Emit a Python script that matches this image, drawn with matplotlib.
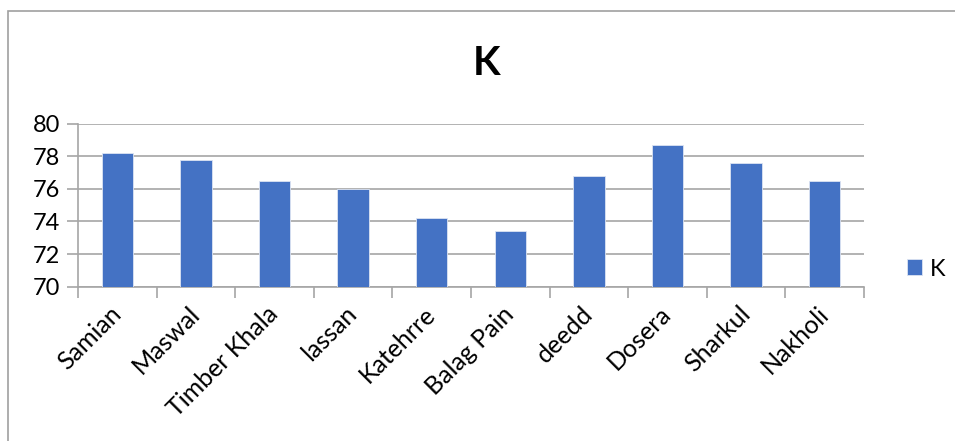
import numpy as np
import matplotlib.pyplot as plt
from matplotlib.patches import Rectangle

plt.rcParams['font.family'] = ['Lato', 'DejaVu Sans']

sites = ['Samian', 'Maswal', 'Timber Khala', 'lassan', 'Katehrre',
         'Balag Pain', 'deedd', 'Dosera', 'Sharkul', 'Nakholi']
k_values = [78.2, 77.8, 76.5, 76.0, 74.2, 73.4, 76.8, 78.7, 77.6, 76.5]

fig = plt.figure(figsize=(9.55, 4.41), dpi=100)
ax = fig.add_axes([0.0817, 0.35, 0.823, 0.3695])

x = np.arange(len(sites))
ax.bar(x, k_values, width=0.4, color='#4472C4', edgecolor='#dce4f2',
       linewidth=0.6, label='K', zorder=3)

ax.set_ylim(70, 80)
ax.set_xlim(-0.5, len(sites) - 0.5)
ax.set_yticks(np.arange(70, 81, 2))
ax.yaxis.grid(True, color='#a6a6a6', linewidth=1.2, zorder=0)

# category labels at centres, tick marks at category boundaries
ax.set_xticks(x)
ax.set_xticklabels(sites, rotation=45, ha='right', va='center',
                   rotation_mode='anchor')
ax.set_xticks(np.arange(-0.5, len(sites)), minor=True)
ax.tick_params(axis='x', which='major', length=0, pad=17, labelsize=18)
ax.tick_params(axis='x', which='minor', length=8, color='#a6a6a6', width=1.2)
ax.tick_params(axis='y', length=8, color='#a6a6a6', width=1.2, labelsize=17, pad=5)

for side in ['top', 'right']:
    ax.spines[side].set_visible(False)
for side in ['left', 'bottom']:
    ax.spines[side].set_color('#a6a6a6')
    ax.spines[side].set_linewidth(1.2)

fig.text(0.51, 0.855, 'K', ha='center', va='center', fontsize=29, fontweight='bold')

fig.legend(loc='center left', bbox_to_anchor=(0.9497, 0.39), frameon=False,
           borderpad=0, borderaxespad=0, fontsize=17,
           handlelength=0.65, handleheight=0.65, handletextpad=0.3)

# outer chart border
fig.patches.append(Rectangle((8 / 955, -0.1), 1.1, 1 - 11 / 441 + 0.1,
                             transform=fig.transFigure, fill=False,
                             edgecolor='#a0a0a0', linewidth=1.2))

fig.savefig('out.png', dpi=100)
